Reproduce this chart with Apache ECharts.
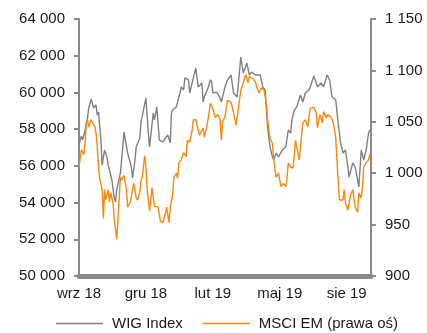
<!DOCTYPE html>
<html>
<head>
<meta charset="utf-8">
<script src="https://cdn.jsdelivr.net/npm/echarts@6/dist/echarts.min.js"></script>
<style>
  html, body { margin: 0; padding: 0; background: #fff; }
  #chart { width: 427px; height: 333px; }
</style>
</head>
<body>
<div id="chart"></div>
<script>
// Trading-day index since the start of the period and closing levels
const wigDays = [0,2,3,5,7,8,10,12,14,15,16,18,19,21,23,24,27,29,30,31,34,36,37,39,40,43,44,46,47,50,51,53,55,57,58,61,62,64,66,69,71,73,75,76,77,80,83,84,86,87,90,91,94,96,98,101,102,103,106,108,109,110,113,116,117,120,122,125,127,130,133,135,138,140,142,145,149,151,153,155,157,159,160,162,164,167,170,172,174,175,177,179,182,184,186,189,190,193,196,199,201,204,206,208,211,213,215,217,219,221,222,225,227,230,232,234,236,238,239];
const wigIndex = [57140,57630,57410,57950,58610,59150,59640,59150,59320,58770,58930,57410,56050,56860,56480,56050,55230,54250,54030,54690,55610,57030,57840,57080,56700,55940,55340,56320,57030,57520,58390,59040,59700,57790,57030,58880,58500,59210,57410,57300,57520,57680,57250,58880,59040,59210,59970,60300,60130,60790,60680,59970,60790,61330,60300,60510,59480,59750,60240,60680,60570,59970,60020,59700,59480,60300,60680,60950,59970,59750,61930,61060,61600,60950,61110,60950,60950,60300,60130,58120,57030,56480,56320,56700,56480,56860,57030,57950,57790,58500,59040,59210,59860,59480,59970,60130,60300,60900,60300,60510,60300,60950,60680,59750,59590,58340,57250,56700,56860,55940,55390,56160,55940,54850,56860,56320,56860,57790,57950];

const msciDays = [0,2,4,5,6,7,8,10,13,14,15,16,17,19,20,21,22,24,25,26,28,29,31,32,34,35,37,39,40,42,44,45,47,48,50,51,52,54,55,56,58,60,62,65,67,69,71,72,74,75,77,78,80,81,82,84,86,88,89,91,93,94,96,97,99,102,103,105,106,108,110,112,113,114,116,117,118,120,122,125,127,129,131,133,135,137,139,140,143,145,146,148,150,152,154,155,157,159,160,162,164,166,168,170,171,172,174,176,178,181,184,186,188,190,193,195,196,198,200,201,203,204,207,209,211,212,214,217,218,219,221,223,225,227,229,230,232,233,234,236,238,239];
const msciEm = [1006,1023,1018,1029,1049,1052,1045,1052,1045,1039,1027,1006,995,984,956,984,974,984,972,981,971,955,936,955,996,993,998,984,967,971,984,990,976,974,981,993,996,1017,1006,984,963,986,968,967,953,952,961,967,952,967,979,996,1000,995,1010,1013,1020,1016,1032,1030,1042,1052,1052,1047,1037,1044,1035,1045,1052,1068,1063,1054,1055,1057,1052,1032,1050,1055,1071,1069,1059,1047,1063,1081,1088,1096,1088,1094,1092,1089,1084,1078,1083,1081,1068,1052,1034,1029,1013,996,1000,987,990,987,996,1010,1006,1005,1032,1013,1049,1052,1045,1063,1064,1059,1044,1057,1049,1060,1054,1057,1055,1049,1035,1013,974,974,984,971,964,978,984,967,962,981,976,987,1006,1010,1013,1018];

// Month labels, one every 55 trading days
const tickLabels = ['wrz 18', 'gru 18', 'lut 19', 'maj 19', 'sie 19'];
const tickStep = 55;

const seriesNames = ['WIG Index', 'MSCI EM (prawa oś)'];

const pairs = (xs, ys) => xs.map((x, i) => [x, ys[i]]);
const spaced = v => String(v).replace(/\B(?=(\d{3})+(?!\d))/g, ' ');

const FONT = '"Liberation Sans", Arial, sans-serif';
const AXIS_GREY = '#8a8a8a';
const TEXT = '#1a1a1a';

const chart = echarts.init(document.getElementById('chart'), null, { renderer: 'canvas' });
chart.setOption({
  animation: false,
  backgroundColor: '#fff',
  textStyle: { fontFamily: FONT },
  grid: { left: 79, right: 56, top: 19, bottom: 57 },
  legend: {
    left: 51,
    top: 311,
    icon: 'rect',
    itemWidth: 47,
    itemHeight: 1.5,
    itemGap: 20,
    textStyle: { fontFamily: FONT, fontSize: 15, color: TEXT, padding: [0, 0, 0, 4] },
    data: seriesNames
  },
  xAxis: {
    type: 'value',
    min: 0,
    max: 240,
    interval: tickStep,
    axisLine: { show: true, lineStyle: { color: AXIS_GREY, width: 5 } },
    axisTick: { show: false },
    splitLine: { show: false },
    axisLabel: {
      margin: 10,
      fontSize: 15,
      color: TEXT,
      fontFamily: FONT,
      formatter: v => tickLabels[Math.round(v / tickStep)] || ''
    }
  },
  yAxis: [
    {
      type: 'value',
      min: 50000,
      max: 64000,
      interval: 2000,
      position: 'left',
      axisLine: { show: true, lineStyle: { color: AXIS_GREY, width: 2 } },
      axisTick: { show: true, length: 5, lineStyle: { color: AXIS_GREY, width: 2 } },
      splitLine: { show: false },
      axisLabel: { margin: 14, fontSize: 15, color: TEXT, fontFamily: FONT, formatter: spaced }
    },
    {
      type: 'value',
      min: 900,
      max: 1150,
      interval: 50,
      position: 'right',
      axisLine: { show: true, lineStyle: { color: AXIS_GREY, width: 2 } },
      axisTick: { show: true, length: 5, lineStyle: { color: AXIS_GREY, width: 2 } },
      splitLine: { show: false },
      axisLabel: { margin: 14, fontSize: 15, color: TEXT, fontFamily: FONT, align: 'left', formatter: spaced }
    }
  ],
  series: [
    {
      name: seriesNames[0],
      type: 'line',
      yAxisIndex: 0,
      data: pairs(wigDays, wigIndex),
      showSymbol: false,
      lineStyle: { color: '#808080', width: 1.4 },
      itemStyle: { color: '#808080' }
    },
    {
      name: seriesNames[1],
      type: 'line',
      yAxisIndex: 1,
      data: pairs(msciDays, msciEm),
      showSymbol: false,
      lineStyle: { color: '#f7890c', width: 1.4 },
      itemStyle: { color: '#f7890c' }
    }
  ]
});
</script>
</body>
</html>
